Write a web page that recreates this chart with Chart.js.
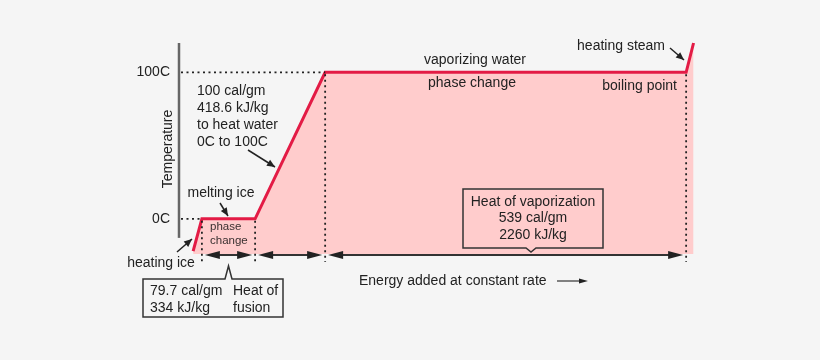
<!DOCTYPE html>
<html>
<head>
<meta charset="utf-8">
<script src="https://cdn.jsdelivr.net/npm/chart.js@4"></script>
<style>
  html, body { margin: 0; padding: 0; background: #f5f5f5; }
  #wrap { width: 820px; height: 360px; }
</style>
</head>
<body>
<div id="wrap"><canvas id="heatChart" width="820" height="360"></canvas></div>
<script>
// Heating curve of water: energy added (about cal/gm) vs temperature (C)
const energy = [0, 13, 92, 196, 732, 743];
const temperature = [-22, 0, 0, 100, 100, 120];
const tempTicks = [0, 100];
const tempTickLabels = ['0C', '100C'];
// points where the dotted guides drop down to the energy arrows
const stageBreaks = [1, 2, 3, 4];

const FONT = '"Liberation Sans", Arial, sans-serif';
const INK = '#222';

function arrowHead(ctx, x1, y1, x2, y2, len, half) {
    const a = Math.atan2(y2 - y1, x2 - x1);
    ctx.beginPath();
    ctx.moveTo(x2, y2);
    ctx.lineTo(x2 - len * Math.cos(a) + half * Math.sin(a), y2 - len * Math.sin(a) - half * Math.cos(a));
    ctx.lineTo(x2 - len * Math.cos(a) - half * Math.sin(a), y2 - len * Math.sin(a) + half * Math.cos(a));
    ctx.closePath();
    ctx.fill();
}

function leader(ctx, x1, y1, x2, y2) {
    ctx.beginPath();
    ctx.moveTo(x1, y1);
    ctx.lineTo(x2, y2);
    ctx.stroke();
    arrowHead(ctx, x1, y1, x2, y2, 8, 3.5);
}

function text(ctx, str, x, y, align, size) {
    ctx.font = (size || 14) + 'px ' + FONT;
    ctx.textAlign = align || 'left';
    ctx.textBaseline = 'middle';
    ctx.fillText(str, x, y);
}

const annotations = {
    id: 'annotations',
    afterDatasetsDraw(chart) {
        const ctx = chart.ctx;
        const xs = chart.scales.x, ys = chart.scales.y;
        const px = v => xs.getPixelForValue(v);
        const py = v => ys.getPixelForValue(v);
        const axisX = chart.chartArea.left;

        ctx.save();

        // temperature axis
        ctx.strokeStyle = '#666';
        ctx.lineWidth = 2.5;
        ctx.beginPath();
        ctx.moveTo(axisX, py(120));
        ctx.lineTo(axisX, py(-13));
        ctx.stroke();

        // dotted guides
        ctx.strokeStyle = '#222';
        ctx.lineWidth = 1.8;
        ctx.setLineDash([2, 3.5]);
        ctx.beginPath();
        ctx.moveTo(axisX + 2, py(100));
        ctx.lineTo(px(energy[3]), py(100));
        ctx.moveTo(axisX + 2, py(0));
        ctx.lineTo(px(energy[1]), py(0));
        stageBreaks.forEach(i => {
            ctx.moveTo(px(energy[i]), py(temperature[i]) + 2);
            ctx.lineTo(px(energy[i]), py(-29.5));
        });
        ctx.stroke();
        ctx.setLineDash([]);

        // double arrows between stages
        ctx.strokeStyle = '#333';
        ctx.fillStyle = '#222';
        ctx.lineWidth = 2;
        const ay = py(-24.6);
        for (let k = 0; k < stageBreaks.length - 1; k++) {
            const a = px(energy[stageBreaks[k]]) + 3;
            const b = px(energy[stageBreaks[k + 1]]) - 3;
            ctx.beginPath();
            ctx.moveTo(a + 4, ay);
            ctx.lineTo(b - 4, ay);
            ctx.stroke();
            arrowHead(ctx, b, ay, a, ay, 15, 4);
            arrowHead(ctx, a, ay, b, ay, 15, 4);
        }

        // tick labels and axis title
        ctx.fillStyle = INK;
        tempTicks.forEach((t, i) => text(ctx, tempTickLabels[i], 170, py(t), 'right'));
        ctx.save();
        ctx.translate(168, 149);
        ctx.rotate(-Math.PI / 2);
        text(ctx, 'Temperature', 0, 0, 'center');
        ctx.restore();

        // labels
        text(ctx, '100 cal/gm', 197, 91);
        text(ctx, '418.6 kJ/kg', 197, 108);
        text(ctx, 'to heat water', 197, 125);
        text(ctx, '0C to 100C', 197, 142);
        text(ctx, 'melting ice', 221, 193, 'center');
        text(ctx, 'heating ice', 161, 263, 'center');
        text(ctx, 'vaporizing water', 475, 60, 'center');
        text(ctx, 'phase change', 472, 83, 'center');
        text(ctx, 'heating steam', 665, 46, 'right');
        text(ctx, 'boiling point', 677, 86, 'right');
        ctx.fillStyle = '#3a3030';
        text(ctx, 'phase', 210, 227, 'left', 11.5);
        text(ctx, 'change', 210, 241, 'left', 11.5);

        // leader arrows
        ctx.fillStyle = INK;
        ctx.strokeStyle = INK;
        ctx.lineWidth = 1.5;
        leader(ctx, 248, 150, 275, 167);
        leader(ctx, 220, 203, 228, 216);
        leader(ctx, 177, 252, 192, 239);
        leader(ctx, 670, 48, 684, 60);

        // heat of vaporization box
        ctx.strokeStyle = '#333';
        ctx.lineWidth = 1.5;
        ctx.beginPath();
        ctx.moveTo(463, 189);
        ctx.lineTo(603, 189);
        ctx.lineTo(603, 248);
        ctx.lineTo(536, 248);
        ctx.lineTo(531, 252);
        ctx.lineTo(526, 248);
        ctx.lineTo(463, 248);
        ctx.closePath();
        ctx.stroke();
        text(ctx, 'Heat of vaporization', 533, 202, 'center');
        text(ctx, '539 cal/gm', 533, 218, 'center');
        text(ctx, '2260 kJ/kg', 533, 235, 'center');

        // heat of fusion box
        ctx.beginPath();
        ctx.moveTo(143, 279);
        ctx.lineTo(225, 279);
        ctx.lineTo(228.5, 266);
        ctx.lineTo(232, 279);
        ctx.lineTo(283, 279);
        ctx.lineTo(283, 317);
        ctx.lineTo(143, 317);
        ctx.closePath();
        ctx.stroke();
        text(ctx, '79.7 cal/gm', 150, 291);
        text(ctx, '334 kJ/kg', 150, 308);
        text(ctx, 'Heat of', 233, 291);
        text(ctx, 'fusion', 233, 308);

        // energy axis caption
        text(ctx, 'Energy added at constant rate', 359, 281);
        ctx.lineWidth = 1.2;
        ctx.beginPath();
        ctx.moveTo(557, 281);
        ctx.lineTo(582, 281);
        ctx.stroke();
        arrowHead(ctx, 557, 281, 588, 281, 9, 2.5);

        ctx.restore();
    }
};

function renderChart() {
    const ctx = document.getElementById('heatChart').getContext('2d');
    new Chart(ctx, {
        type: 'line',
        data: {
            datasets: [{
                data: energy.map((e, i) => ({ x: e, y: temperature[i] })),
                borderColor: '#e31b45',
                borderWidth: 3,
                borderJoinStyle: 'miter',
                backgroundColor: '#ffcccc',
                fill: 'start',
                pointRadius: 0,
                tension: 0,
                clip: 4
            }]
        },
        options: {
            responsive: false,
            animation: false,
            devicePixelRatio: 1,
            layout: { padding: { left: 179, right: 115, top: 43, bottom: 106 } },
            scales: {
                x: { type: 'linear', min: -21, max: 760, display: false },
                y: { type: 'linear', min: -24, max: 120, display: false }
            },
            plugins: {
                legend: { display: false },
                tooltip: { enabled: false }
            }
        },
        plugins: [annotations]
    });
}

document.addEventListener('DOMContentLoaded', renderChart);
</script>
</body>
</html>
